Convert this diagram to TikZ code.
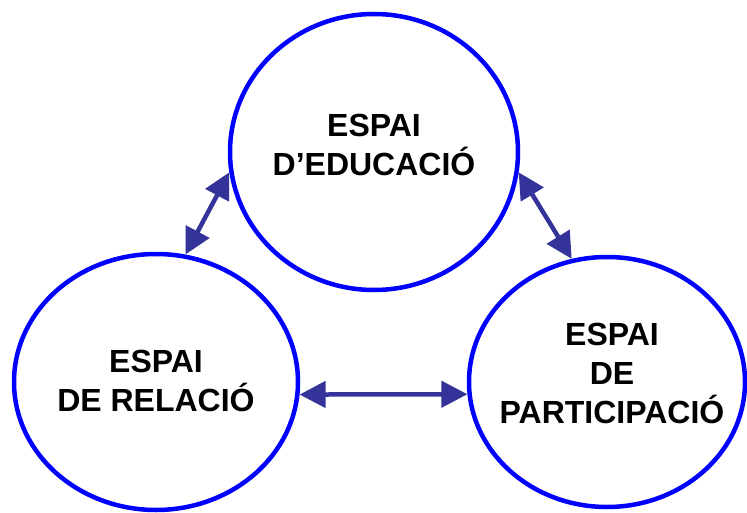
\documentclass[tikz,border=0pt]{standalone}
\usepackage{fontspec}
\setmainfont{Liberation Sans}
\usetikzlibrary{shapes.geometric,arrows.meta}
\definecolor{ringblue}{HTML}{0000FF}
\definecolor{arrowblue}{HTML}{333399}
\begin{document}
\begin{tikzpicture}[x=1pt,y=-1pt, line join=round,
	ring/.style={ellipse, draw=ringblue, line width=4.5pt, inner sep=0pt},
	txt/.style={align=center, font=\fontsize{32}{39}\selectfont\bfseries, inner sep=0pt},
	link/.style={draw=arrowblue, line width=4.5pt, {Triangle[length=26pt,width=26pt]}-{Triangle[length=26pt,width=26pt]}}]
	\useasboundingbox (0,0) rectangle (747,513);
	% rings
	\node[ring, minimum width=288pt, minimum height=276pt] (edu) at (374,152) {};
	\node[ring, minimum width=284pt, minimum height=256pt] (rel) at (156,382) {};
	\node[ring, minimum width=276pt, minimum height=250pt] (par) at (607,382) {};
	% texts
	\node[txt] (edutxt) at (374,145) {ESPAI\\D’EDUCACIÓ};
	\node[txt] (reltxt) at (156,381) {ESPAI\\DE RELACIÓ};
	\node[txt] (partxt) at (612,373) {ESPAI\\DE\\PARTICIPACIÓ};
	% links
	\draw[link] (edu.188) -- (rel.77);
	\draw[link] (edu.352) -- (par.106);
	\draw[link] (rel.355) -- (par.185);
\end{tikzpicture}
\end{document}
